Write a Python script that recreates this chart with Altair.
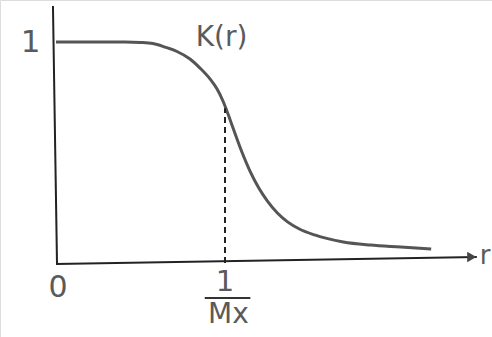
import altair as alt
import pandas as pd

# K(r) profile
r_vals = [0.0, 0.26, 0.41, 0.50, 0.574, 0.645, 0.716, 0.793, 0.852, 0.911, 0.953, 0.988,
          1.018, 1.047, 1.10, 1.15, 1.20, 1.25, 1.31, 1.37, 1.44, 1.53, 1.70, 1.86, 2.04, 2.22]
k_vals = [1.0, 1.0, 1.0, 0.998, 0.993, 0.977, 0.957, 0.923, 0.882, 0.833, 0.787, 0.733,
          0.674, 0.612, 0.502, 0.412, 0.339, 0.281, 0.226, 0.186, 0.154, 0.127, 0.095,
          0.081, 0.072, 0.063]

# axis lines (hand drawn, slightly tilted)
x_axis_r = [0.0, 2.49]
x_axis_k = [-0.005, 0.027]
y_axis_r = [0.006, -0.018]
y_axis_k = [-0.005, 1.163]

# marked position r = 1/Mx
r_mark = 1.0
k_mark = 0.70

# text labels
label_text = ["1", "K(r)", "0", "1", "Mx", "r"]
label_r = [-0.151, 0.98, 0.012, 1.0, 1.02, 2.508]
label_k = [0.995, 1.02, -0.113, -0.086, -0.235, 0.030]
label_align = ["center", "center", "center", "center", "center", "left"]
label_size = [31, 28, 30, 29, 28, 26]

frac_r = [0.88, 1.15]
frac_k = [-0.158, -0.158]

X = alt.Scale(domain=[-0.3314, 2.5799], nice=False, zero=False)
Y = alt.Scale(domain=[-0.3348, 1.19], nice=False, zero=False)

curve_df = pd.DataFrame({"r": r_vals, "K": k_vals})
curve = alt.Chart(curve_df).mark_line(
    color="#555555", strokeWidth=3, interpolate="monotone"
).encode(x=alt.X("r:Q", scale=X, axis=None), y=alt.Y("K:Q", scale=Y, axis=None))

xa = alt.Chart(pd.DataFrame({"r": x_axis_r, "K": x_axis_k})).mark_line(
    color="#222222", strokeWidth=2
).encode(x=alt.X("r:Q", scale=X), y=alt.Y("K:Q", scale=Y))

ya = alt.Chart(pd.DataFrame({"r": y_axis_r, "K": y_axis_k})).mark_line(
    color="#222222", strokeWidth=2
).encode(x=alt.X("r:Q", scale=X), y=alt.Y("K:Q", scale=Y))

arrow = alt.Chart(pd.DataFrame({"r": [x_axis_r[1] - 0.03], "K": [x_axis_k[1]]})).mark_point(
    shape="triangle-right", filled=True, color="#444444", size=110, opacity=1
).encode(x=alt.X("r:Q", scale=X), y=alt.Y("K:Q", scale=Y))

dash = alt.Chart(pd.DataFrame({"r": [r_mark], "K0": [0.0], "K1": [k_mark]})).mark_rule(
    color="#222222", strokeWidth=2, strokeDash=[6, 4]
).encode(x=alt.X("r:Q", scale=X), y=alt.Y("K0:Q", scale=Y), y2="K1:Q")

frac = alt.Chart(pd.DataFrame({"r": frac_r, "K": frac_k})).mark_line(
    color="#333333", strokeWidth=2
).encode(x=alt.X("r:Q", scale=X), y=alt.Y("K:Q", scale=Y))

labels_df = pd.DataFrame({
    "t": label_text, "r": label_r, "K": label_k,
    "align": label_align, "size": label_size,
})
texts = []
for i, row in labels_df.iterrows():
    texts.append(
        alt.Chart(labels_df.iloc[[i]]).mark_text(
            font="DejaVu Sans", fontSize=int(row["size"]), color="#5a5a5a",
            align=row["align"], baseline="middle"
        ).encode(x=alt.X("r:Q", scale=X), y=alt.Y("K:Q", scale=Y), text="t:N")
    )

chart = alt.layer(curve, xa, ya, arrow, dash, frac, *texts).properties(
    width=492, height=337, padding=0, autosize=alt.AutoSizeParams(type="none")
).configure_view(stroke=None).configure(background="white")

chart.save("out.html", embed_options={"renderer": "svg", "actions": False})
